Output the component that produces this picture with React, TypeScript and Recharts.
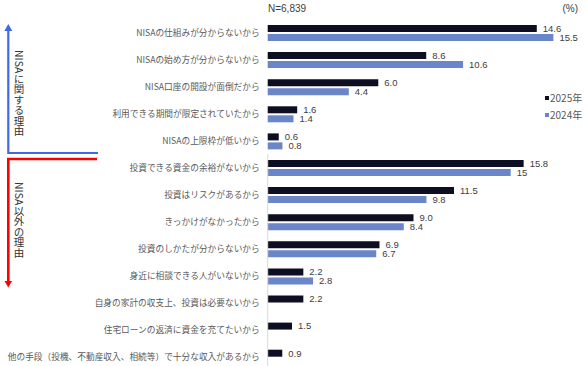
import React from 'react';
import { BarChart, Bar, XAxis, YAxis, LabelList } from 'recharts';

// ---- data ----
const nisaReasons = [
  'NISAの仕組みが分からないから',
  'NISAの始め方が分からないから',
  'NISA口座の開設が面倒だから',
  '利用できる期間が限定されていたから',
  'NISAの上限枠が低いから',
];
const nisa2025 = [14.6, 8.6, 6.0, 1.6, 0.6];
const nisa2024 = [15.5, 10.6, 4.4, 1.4, 0.8];
const nisa2025Labels = ['14.6', '8.6', '6.0', '1.6', '0.6'];
const nisa2024Labels = ['15.5', '10.6', '4.4', '1.4', '0.8'];

const otherReasons = [
  '投資できる資金の余裕がないから',
  '投資はリスクがあるから',
  'きっかけがなかったから',
  '投資のしかたが分からないから',
  '身近に相談できる人がいないから',
  '自身の家計の収支上、投資は必要ないから',
  '住宅ローンの返済に資金を充てたいから',
  '他の手段（投機、不動産収入、相続等）で十分な収入があるから',
];
const other2025 = [15.8, 11.5, 9.0, 6.9, 2.2, 2.2, 1.5, 0.9];
const other2024 = [15, 9.8, 8.4, 6.7, 2.8, null, null, null];
const other2025Labels = ['15.8', '11.5', '9.0', '6.9', '2.2', '2.2', '1.5', '0.9'];
const other2024Labels = ['15', '9.8', '8.4', '6.7', '2.8', null, null, null];

const seriesNames = ['2025年', '2024年'];
const sampleNote = 'N=6,839';
const unitNote = '(%)';
const groupTitles = ['NISAに関する理由', 'NISA以外の理由'];

// ---- styles ----
const DARK = '#0e0e22';
const BLUE = '#6a86c8';
const LABEL_GRAY = '#595959';
const VALUE_GRAY = '#404040';
const JP_FONT = "'Noto Sans CJK JP', 'Noto Sans', sans-serif";
const NUM_FONT = "'Liberation Sans', Arial, sans-serif";
const AXIS_W = 267.7;

const buildRows = (
  cats: string[],
  a: (number | null)[],
  b: (number | null)[],
  la: (string | null)[],
  lb: (string | null)[]
) => cats.map((c, i) => ({ cat: c, v2025: a[i], v2024: b[i], l2025: la[i], l2024: lb[i] }));

const nisaRows = buildRows(nisaReasons, nisa2025, nisa2024, nisa2025Labels, nisa2024Labels);
const otherRows = buildRows(otherReasons, other2025, other2024, other2025Labels, other2024Labels);

const CategoryTick = (props: any) => (
  <text
    x={props.x}
    y={props.y}
    dy="0.35em"
    textAnchor="end"
    fontSize={8.7}
    fill={LABEL_GRAY}
    fontFamily={JP_FONT}
  >
    {props.payload.value}
  </text>
);

type SectionProps = {
  rows: any[];
  top: number;
  height: number;
  max: number;
  rightMargin: number;
  showAxisLine: boolean;
};

const Section = ({ rows, top, height, max, rightMargin, showAxisLine }: SectionProps) => (
  <div style={{ position: 'absolute', left: 0, top, width: 588, height }}>
    <BarChart
      width={588}
      height={height}
      data={rows}
      layout="vertical"
      margin={{ top: 0, right: rightMargin, bottom: 0, left: 0 }}
      barSize={7}
      barGap={2}
    >
      <XAxis type="number" domain={[0, max]} hide />
      <YAxis
        type="category"
        dataKey="cat"
        width={AXIS_W}
        interval={0}
        tickLine={false}
        tickSize={0}
        tickMargin={8}
        axisLine={showAxisLine ? { stroke: '#d9d9d9', strokeWidth: 1 } : false}
        tick={<CategoryTick />}
      />
      <Bar dataKey="v2025" fill={DARK} isAnimationActive={false}>
        <LabelList
          dataKey="l2025"
          position="right"
          offset={6}
          fontSize={9.5}
          fill={VALUE_GRAY}
          fontFamily={NUM_FONT}
        />
      </Bar>
      <Bar dataKey="v2024" fill={BLUE} isAnimationActive={false}>
        <LabelList
          dataKey="l2024"
          position="right"
          offset={6}
          fontSize={9.5}
          fill={VALUE_GRAY}
          fontFamily={NUM_FONT}
        />
      </Bar>
    </BarChart>
  </div>
);

const verticalTitle = (text: string, color: string, top: number) => (
  <div
    style={{
      position: 'absolute',
      left: 13.5,
      top,
      width: 11,
      writingMode: 'vertical-rl',
      fontSize: 10.5,
      lineHeight: '11px',
      color,
      fontFamily: JP_FONT,
      whiteSpace: 'nowrap',
    }}
  >
    {text}
  </div>
);

export default function App() {
  return (
    <div
      style={{
        position: 'absolute',
        left: 0,
        top: 0,
        width: 588,
        height: 366,
        overflow: 'hidden',
        background: '#ffffff',
      }}
    >
      <Section rows={nisaRows} top={18.75} height={135.5} max={16} rightMargin={25.4} showAxisLine={false} />
      <Section rows={otherRows} top={154.35} height={216.8} max={18} rightMargin={28.7} showAxisLine={true} />

      <svg
        width={588}
        height={366}
        style={{ position: 'absolute', left: 0, top: 0, pointerEvents: 'none' }}
      >
        <text x={268} y={11.5} fontSize={10} fill={VALUE_GRAY} fontFamily={NUM_FONT}>
          {sampleNote}
        </text>
        <text x={578} y={11.5} fontSize={10} fill={VALUE_GRAY} fontFamily={NUM_FONT} textAnchor="end">
          {unitNote}
        </text>

        {/* legend */}
        <rect x={545} y={96} width={4} height={4} fill={DARK} />
        <text x={550} y={98} dy="0.35em" fontSize={10} fill={LABEL_GRAY} fontFamily={JP_FONT}>
          {seriesNames[0]}
        </text>
        <rect x={545} y={113} width={4} height={4} fill={BLUE} />
        <text x={550} y={115} dy="0.35em" fontSize={10} fill={LABEL_GRAY} fontFamily={JP_FONT}>
          {seriesNames[1]}
        </text>

        {/* blue bracket with up arrow */}
        <polyline points="8.3,30 8.3,153 98,153" fill="none" stroke="#4169e1" strokeWidth={2.2} />
        <polygon points="8.3,24 4.3,31 12.3,31" fill="#4169e1" />

        {/* red bracket with down arrow */}
        <polyline points="97,159 8.3,159 8.3,281" fill="none" stroke="#ff0000" strokeWidth={2.6} />
        <polygon points="8.3,287.5 4.5,281 12.1,281" fill="#ff0000" />
      </svg>

      {verticalTitle(groupTitles[0], '#333333', 50)}
      {verticalTitle(groupTitles[1], '#333333', 182)}
    </div>
  );
}
